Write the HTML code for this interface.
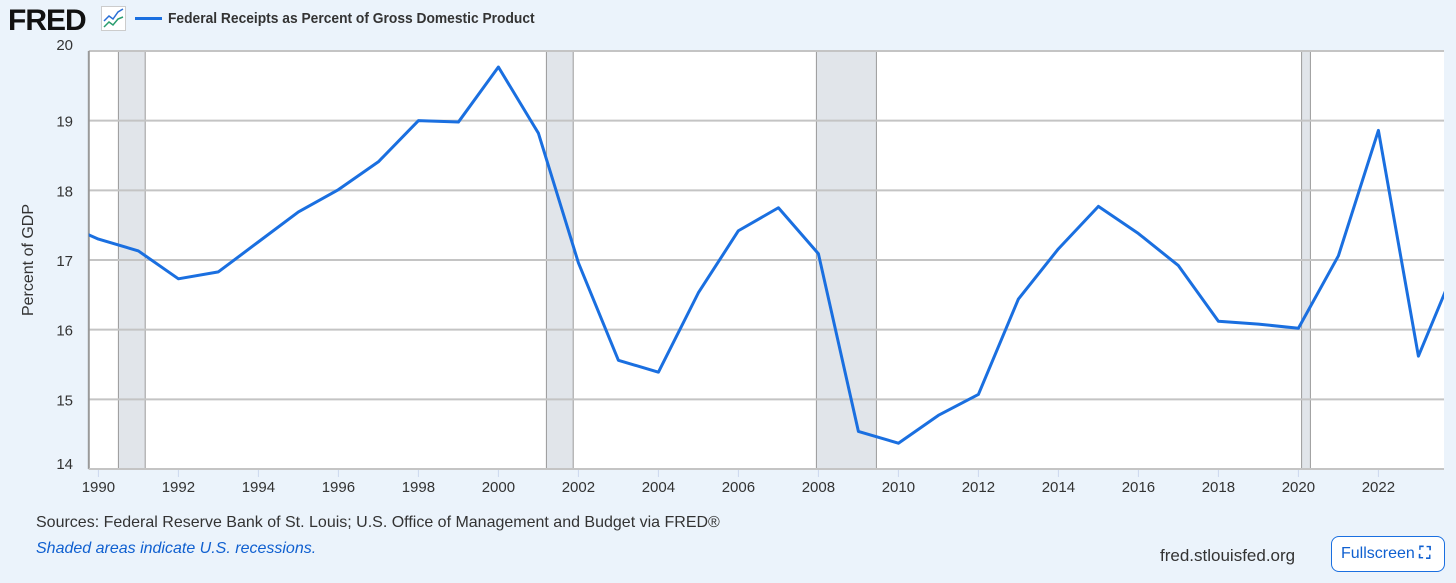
<!DOCTYPE html>
<html><head><meta charset="utf-8"><style>
body{margin:0;width:1456px;height:583px;background:#ebf3fb;font-family:"Liberation Sans",sans-serif;overflow:hidden;position:relative}
.t{position:absolute;white-space:nowrap}
</style></head><body>
<div class="t" style="left:8px;top:4px;font-size:30px;font-weight:bold;letter-spacing:-1px;color:#111">FRED</div>
<svg style="position:absolute;left:101px;top:6px" width="25" height="25"><rect x="0.5" y="0.5" width="24" height="24" fill="#fff" stroke="#ccc"/><polyline points="3,15 8,10 12,13 17,6 22,3" fill="none" stroke="#2a6fd6" stroke-width="1.5"/><polyline points="3,21 8,16 12,19 17,13 22,11" fill="none" stroke="#2a9d6f" stroke-width="1.5"/></svg>
<div style="position:absolute;left:135px;top:17px;width:27px;height:3px;background:#1a6fe0"></div>
<div class="t" style="left:168px;top:10px;font-size:15px;font-weight:bold;color:#333;transform:scaleX(0.92);transform-origin:left">Federal Receipts as Percent of Gross Domestic Product</div>
<svg id="chart" style="position:absolute;left:0;top:0" width="1456" height="510"></svg>
<div class="t" style="left:36px;top:514px;font-size:16px;color:#333">Sources: Federal Reserve Bank of St. Louis; U.S. Office of Management and Budget via FRED®</div>
<div class="t" style="left:36px;top:540px;font-size:16px;font-style:italic;color:#1060d0">Shaded areas indicate U.S. recessions.</div>
<div class="t" style="left:1160px;top:546px;font-size:17px;color:#333">fred.stlouisfed.org</div>
<div style="position:absolute;left:1331px;top:536px;width:114px;height:36px;box-sizing:border-box;border:1px solid #1a6fe0;border-radius:8px;background:#fff;color:#1060d0;font-size:16px;line-height:34px;padding-left:9px">Fullscreen <span style="font-weight:bold">⛶</span></div>
<script>
const years=[1989,1990,1991,1992,1993,1994,1995,1996,1997,1998,1999,2000,2001,2002,2003,2004,2005,2006,2007,2008,2009,2010,2011,2012,2013,2014,2015,2016,2017,2018,2019,2020,2021,2022,2023,2024];
const values=[17.55,17.3,17.13,16.73,16.83,17.26,17.69,18.01,18.41,19.0,18.98,19.77,18.82,16.96,15.56,15.39,16.53,17.42,17.75,17.09,14.54,14.37,14.77,15.07,16.44,17.16,17.77,17.38,16.92,16.12,16.08,16.02,17.06,18.86,15.62,17.0];
const yTicks=[14,15,16,17,18,19,20];
const xTicks=[1990,1992,1994,1996,1998,2000,2002,2004,2006,2008,2010,2012,2014,2016,2018,2020,2022];
const recStart=[1990.5,2001.2,2007.95,2020.08];
const recEnd=[1991.17,2001.87,2009.45,2020.3];
const L=88.8,R=1444,T=51,B=469;
const X=y=>98.4+(y-1990)*40;
const Y=v=>B-(v-14)*(B-T)/6;
const svg=document.getElementById('chart');const NS='http://www.w3.org/2000/svg';
function mk(t,a){const e=document.createElementNS(NS,t);for(const k in a)e.setAttribute(k,a[k]);svg.appendChild(e);return e;}
let e=mk('rect',{x:L,y:T,width:R-L,height:B-T,fill:'#fff'});


recStart.forEach((s,i)=>{const r=mk('rect',{x:X(s),y:T,width:X(recEnd[i])-X(s),height:B-T,fill:'#e1e5ea',stroke:'#999','stroke-width':1});

});
yTicks.forEach(v=>{const g=mk('line',{x1:L,x2:R,y1:Y(v),y2:Y(v),stroke:'#c4c4c4','stroke-width':2});


const t=mk('text',{x:73,y:Y(v)+(v==20?-1:v==14?0:6),'text-anchor':'end','font-size':15,fill:'#333','font-family':'Liberation Sans'});t.textContent=v;

});
mk('line',{x1:L,x2:L,y1:T,y2:B,stroke:'#999','stroke-width':2});
xTicks.forEach(y=>{const k=mk('line',{x1:X(y),x2:X(y),y1:B,y2:B+8,stroke:'#ccd8ee','stroke-width':1});


const t=mk('text',{x:X(y),y:B+23,'text-anchor':'middle','font-size':15,fill:'#333','font-family':'Liberation Sans'});t.textContent=y;

});
const ya=mk('text',{x:0,y:0,transform:'translate(33,260) rotate(-90)','text-anchor':'middle','font-size':16,fill:'#333','font-family':'Liberation Sans'});ya.textContent='Percent of GDP';


mk('defs',{}).innerHTML='<clipPath id="c"><rect x="'+L+'" y="'+T+'" width="'+(R-L)+'" height="'+(B-T)+'"/></clipPath>';
const p=mk('polyline',{points:years.map((y,i)=>X(y)+','+Y(values[i])).join(' '),fill:'none',stroke:'#1a6fe0','stroke-width':3,'stroke-linejoin':'round','clip-path':'url(#c)'});


const bl=mk('line',{x1:L,x2:R,y1:B,y2:B,stroke:'#c4c4c4','stroke-width':2});
</script>
</body></html>
